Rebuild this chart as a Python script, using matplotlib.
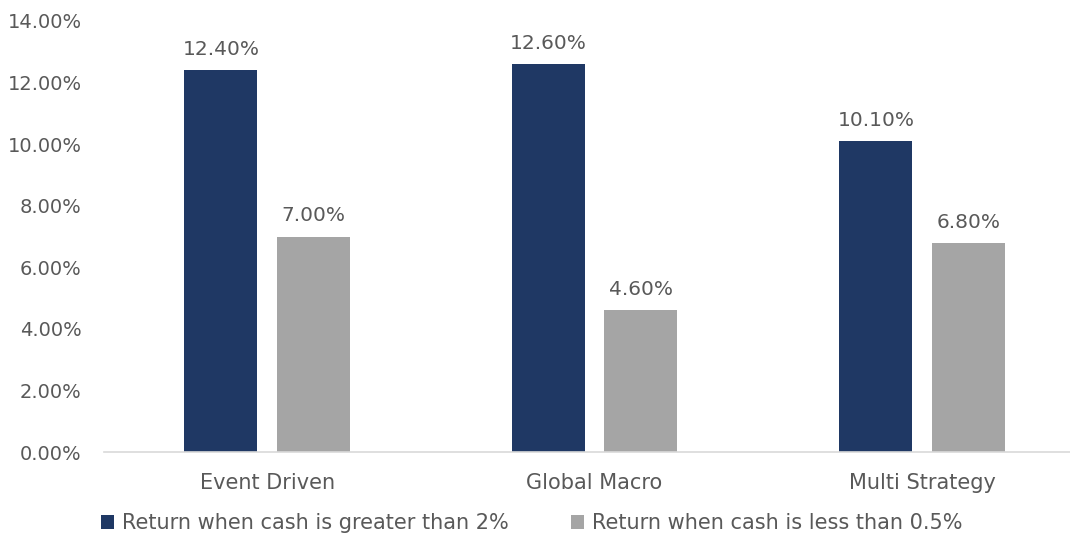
import numpy as np
import matplotlib
matplotlib.use("Agg")
import matplotlib.pyplot as plt
from matplotlib.ticker import FuncFormatter

categories = ["Event Driven", "Global Macro", "Multi Strategy"]
cash_high = [12.4, 12.6, 10.1]
cash_low = [7.0, 4.6, 6.8]
series_names = ["Return when cash is greater than 2%", "Return when cash is less than 0.5%"]
y_ticks = [0, 2, 4, 6, 8, 10, 12, 14]

NAVY = "#1F3864"
GRAY = "#A5A5A5"
TXT = "#595959"

plt.rcParams["font.family"] = ["DejaVu Sans"]

fig = plt.figure(figsize=(10.7, 5.37), dpi=100)
ax = fig.add_axes([104 / 1070, 1 - 452 / 537, 1 - 104 / 1070, (452 - 21) / 537])

x = np.arange(len(categories))
w = 0.223
off = 0.141
b1 = ax.bar(x - off, cash_high, w, color=NAVY, label=series_names[0])
b2 = ax.bar(x + off, cash_low, w, color=GRAY, label=series_names[1])

for bars in (b1, b2):
    for r in bars:
        ax.annotate(f"{r.get_height():.2f}%", (r.get_x() + r.get_width() / 2, r.get_height()),
                    xytext=(0, 8), textcoords="offset points", ha="center", va="bottom",
                    fontsize=14.5, color=TXT)

ax.set_xlim(-0.498, 2.452)
ax.set_ylim(0, 14)
ax.set_yticks(y_ticks)
ax.yaxis.set_major_formatter(FuncFormatter(lambda v, p: f"{v:.2f}%"))
ax.set_xticks(x)
ax.set_xticklabels(categories, fontsize=15)
ax.tick_params(axis="both", length=0, colors=TXT)
ax.tick_params(axis="y", labelsize=14, pad=16)
ax.tick_params(axis="x", pad=15)
for s in ("top", "right", "left"):
    ax.spines[s].set_visible(False)
ax.spines["bottom"].set_color("#D9D9D9")
ax.spines["bottom"].set_linewidth(1.2)

leg = fig.legend(handles=[b1, b2], loc="center left", bbox_to_anchor=(82 / 1070, 1 - 523 / 537),
                 ncol=2, frameon=False, fontsize=15, handlelength=0.65, handleheight=0.65,
                 handletextpad=0.35, columnspacing=3.0, labelcolor=TXT)

fig.savefig("out.png", dpi=100)
